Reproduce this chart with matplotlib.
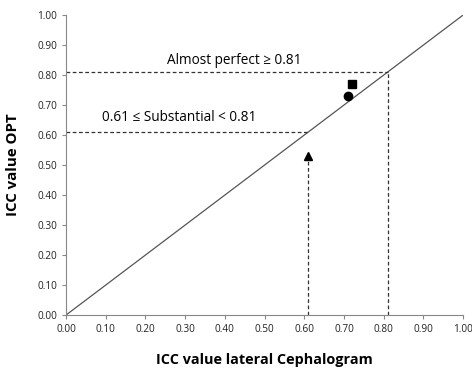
import matplotlib
matplotlib.use("Agg")
import matplotlib.pyplot as plt
import numpy as np

# ICC values: lateral cephalogram (x) vs OPT (y)
ceph = [0.72, 0.71, 0.61]
opt = [0.77, 0.73, 0.53]
markers = ["s", "o", "^"]

ticks = np.arange(0, 1.01, 0.1)
tick_labels = [f"{t:.2f}" for t in ticks]

plt.rcParams['font.family'] = ['Open Sans', 'DejaVu Sans']

fig = plt.figure(figsize=(4.72, 3.68), dpi=100)
ax = fig.add_axes([0.14, 0.144, 0.841, 0.815])

# identity line
ax.plot([0, 1], [0, 1], color="#555555", lw=0.9)

# threshold guides
dash = dict(color="#333333", lw=0.9, ls=(0, (3, 2)))
ax.plot([0, 0.81], [0.81, 0.81], **dash)
ax.plot([0.81, 0.81], [0, 0.81], **dash)
ax.plot([0, 0.61], [0.61, 0.61], **dash)
ax.plot([0.61, 0.61], [0, opt[2]], **dash)

for x, y, m in zip(ceph, opt, markers):
    ax.plot(x, y, marker=m, color="black", ms=6, ls="none")

ax.text(0.424, 0.825, "Almost perfect \u2265 0.81", ha="center", va="bottom", fontsize=9.8)
ax.text(0.286, 0.632, "0.61 \u2264 Substantial < 0.81", ha="center", va="bottom", fontsize=9.8)

ax.set_xlim(0, 1)
ax.set_ylim(0, 1)
ax.set_xticks(ticks)
ax.set_yticks(ticks)
ax.set_xticklabels(tick_labels, fontsize=7.2)
ax.set_yticklabels(tick_labels, fontsize=7.2)
ax.tick_params(direction="out", length=3, color="#888888", width=0.8, labelcolor="#222222")

for s in ["top", "right"]:
    ax.spines[s].set_visible(False)
for s in ["left", "bottom"]:
    ax.spines[s].set_color("#888888")
    ax.spines[s].set_linewidth(0.8)

ax.set_xlabel("ICC value lateral Cephalogram", fontsize=10.4, fontweight="bold", labelpad=13)
ax.set_ylabel("ICC value OPT", fontsize=10.8, fontweight="bold", labelpad=12)

fig.savefig("out.png", dpi=100)
